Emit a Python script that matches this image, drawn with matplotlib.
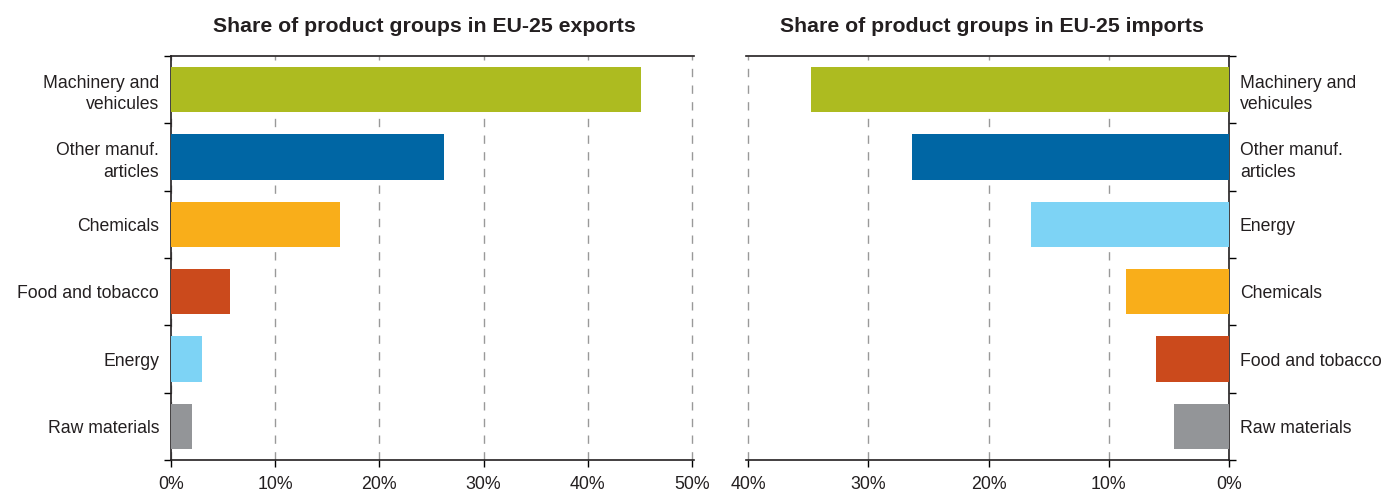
import matplotlib
matplotlib.use("Agg")
import matplotlib.pyplot as plt
import numpy as np
from matplotlib.ticker import FixedLocator

plt.rcParams['font.family'] = ['Liberation Sans', 'DejaVu Sans']

# Export shares (%)
export_labels = ["Machinery and\nvehicules", "Other manuf.\narticles", "Chemicals",
                 "Food and tobacco", "Energy", "Raw materials"]
export_values = [45.1, 26.2, 16.2, 5.7, 3.0, 2.0]

# Import shares (%)
import_labels = ["Machinery and\nvehicules", "Other manuf.\narticles", "Energy",
                 "Chemicals", "Food and tobacco", "Raw materials"]
import_values = [34.8, 26.4, 16.5, 8.6, 6.1, 4.6]

palette = {
    "Machinery and\nvehicules": "#ADBB20",
    "Other manuf.\narticles": "#0066A4",
    "Chemicals": "#F9AE1A",
    "Food and tobacco": "#CB4A1C",
    "Energy": "#7DD3F5",
    "Raw materials": "#939598",
}

export_ticks = [0, 10, 20, 30, 40, 50]
import_ticks = [40, 30, 20, 10, 0]

fig = plt.figure(figsize=(13.82, 4.93), dpi=100)
ax1 = fig.add_axes([171 / 1382, 1 - 460 / 493, (694 - 171) / 1382, (460 - 56) / 493])
ax2 = fig.add_axes([746 / 1382, 1 - 460 / 493, (1229 - 746) / 1382, (460 - 56) / 493])


def style(ax, labels, values, ticks, side):
    n = len(labels)
    y = np.arange(n)
    ax.barh(y, values, height=0.67, color=[palette[l] for l in labels], zorder=3)
    ax.set_ylim(n - 0.5, -0.5)
    ax.set_yticks(y)
    ax.set_yticklabels(labels, fontsize=12.7, color="#231F20",
                       ha="right" if side == "left" else "left",
                       linespacing=1.35)
    ax.yaxis.set_minor_locator(FixedLocator(np.arange(n + 1) - 0.5))
    ax.tick_params(axis="y", which="major", length=0,
                   pad=8.6 if side == "left" else 7.8)
    ax.tick_params(axis="y", which="minor", length=5, width=1, direction="out")
    ax.set_xticks(ticks)
    ax.set_xticklabels([f"{t}%" for t in ticks], fontsize=12.8, color="#231F20")
    ax.tick_params(axis="x", length=5, width=1, direction="out", pad=6.5)
    ax.xaxis.grid(True, linestyle=(0, (6, 6)), color="#999999", linewidth=1, zorder=0)
    for s in ax.spines.values():
        s.set_color("#231F20")
        s.set_linewidth(1.2)
    if side == "left":
        ax.spines["right"].set_visible(False)
        ax.yaxis.tick_left()
    else:
        ax.spines["left"].set_visible(False)
        ax.yaxis.tick_right()
        ax.yaxis.set_label_position("right")
    ax.set_axisbelow(True)


style(ax1, export_labels, export_values, export_ticks, "left")
ax1.set_xlim(0, 50.2)
ax1.set_title("Share of product groups in EU-25 exports", fontsize=15.3,
              fontweight="bold", pad=17, color="#231F20", x=0.485)

style(ax2, import_labels, import_values, import_ticks, "right")
ax2.set_xlim(40.17, 0)
ax2.set_title("Share of product groups in EU-25 imports", fontsize=15.3,
              fontweight="bold", pad=17, color="#231F20", x=0.51)

fig.savefig("out.png", dpi=100)
